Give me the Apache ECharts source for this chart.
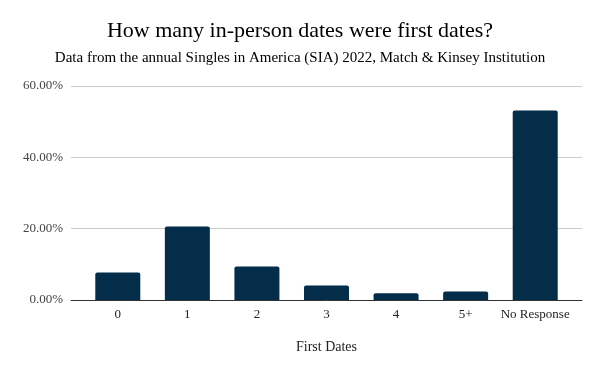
<!DOCTYPE html>
<html>
<head>
<meta charset="utf-8">
<script src="https://cdn.jsdelivr.net/npm/echarts@6/dist/echarts.min.js"></script>
<style>html,body{margin:0;padding:0;background:#fff}#c{width:600px;height:371px}</style>
</head>
<body>
<div id="c"></div>
<script>
const categories = ['0', '1', '2', '3', '4', '5+', 'No Response'];
const values = [7.7, 20.6, 9.4, 4.1, 1.9, 2.4, 53.1];
const yTicks = [0, 20, 40, 60];
const titleText = 'How many in-person dates were first dates?';
const subtitleText = 'Data from the annual Singles in America (SIA) 2022, Match & Kinsey Institution';
const xName = 'First Dates';

const serif = '"Liberation Serif", "DejaVu Serif", serif';
const chart = echarts.init(document.getElementById('c'));
chart.setOption({
  backgroundColor: '#fff',
  animation: false,
  title: {
    text: titleText,
    subtext: subtitleText,
    left: 'center',
    top: 15,
    itemGap: 9,
    textStyle: { fontFamily: serif, fontSize: 22, fontWeight: 'normal', color: '#000' },
    subtextStyle: { fontFamily: serif, fontSize: 15, color: '#000' }
  },
  grid: [
    { left: 71, right: 18, top: 86, bottom: 71 },
    { left: 83, right: 30, top: 86, bottom: 71 }
  ],
  xAxis: [
    { gridIndex: 0, type: 'value', min: 0, max: 1, axisLabel: { show: false }, axisTick: { show: false }, splitLine: { show: false },
      axisLine: { show: true, lineStyle: { color: '#333', width: 1 } } },
    { gridIndex: 1, type: 'category', data: categories,
      axisLine: { show: false }, axisTick: { show: false },
      axisLabel: { fontFamily: serif, fontSize: 13, color: '#222', margin: 8, interval: 0 },
      name: xName, nameLocation: 'middle', nameGap: 40,
      nameTextStyle: { fontFamily: serif, fontSize: 14, color: '#222' } }
  ],
  yAxis: [
    { gridIndex: 0, type: 'value', min: 0, max: 60, interval: 20,
      axisLine: { show: false }, axisTick: { show: false },
      axisLabel: { fontFamily: serif, fontSize: 13, color: '#444', margin: 8,
        formatter: v => yTicks.includes(v) ? v.toFixed(2) + '%' : '' },
      splitLine: { lineStyle: { color: '#cccccc', width: 1 } } },
    { gridIndex: 1, type: 'value', min: 0, max: 60, interval: 20, show: false, splitLine: { show: false } }
  ],
  series: [{
    type: 'bar',
    xAxisIndex: 1, yAxisIndex: 1,
    data: values,
    barWidth: 45,
    itemStyle: { color: '#032d48', borderRadius: [2, 2, 0, 0] }
  }]
});
</script>
</body>
</html>
